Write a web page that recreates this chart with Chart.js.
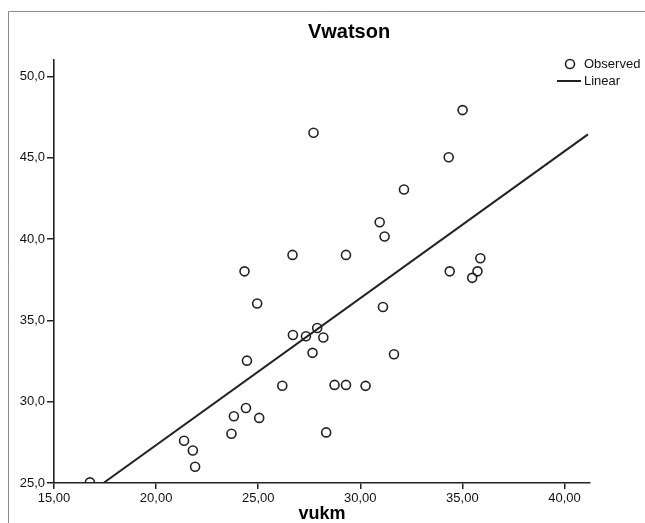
<!DOCTYPE html>
<html>
<head>
<meta charset="utf-8">
<script src="https://cdn.jsdelivr.net/npm/chart.js@4.4.1/dist/chart.umd.min.js"></script>
<style>
  html, body { margin: 0; padding: 0; background: #fff; }
  #wrap { position: relative; width: 645px; height: 523px; }
</style>
</head>
<body>
<div id="wrap"><canvas id="chart" width="645" height="523"></canvas></div>
<script>
var vukm = [16.76, 21.37, 21.80, 21.91, 23.69, 23.81, 24.33, 24.40, 24.45, 24.95,
            25.05, 26.18, 26.68, 26.70, 27.34, 27.71, 27.66, 27.89, 28.19, 28.33,
            28.74, 29.30, 29.30, 30.26, 30.95, 31.11, 31.19, 31.65, 32.14, 34.33,
            34.38, 35.01, 35.48, 35.74, 35.88];
var vwatson = [25.04, 27.60, 27.00, 26.00, 28.03, 29.10, 38.01, 29.61, 32.52, 36.03,
               29.00, 30.98, 39.02, 34.10, 34.02, 46.53, 33.00, 34.53, 33.94, 28.11,
               31.03, 31.03, 39.02, 30.97, 41.03, 35.82, 40.15, 32.91, 43.04, 45.02,
               38.01, 47.92, 37.61, 38.01, 38.81];

// linear fit line, end points as drawn
var fitX = [17.42, 41.15];
var fitY = [25.0, 46.43];

var xTicks = [15, 20, 25, 30, 35, 40];
var yTicks = [25, 30, 35, 40, 45, 50];

var FONT = "Arial, 'Liberation Sans', sans-serif";
var INK = "#222";

var observed = vukm.map(function (x, i) { return { x: x, y: vwatson[i] }; });
var linear = fitX.map(function (x, i) { return { x: x, y: fitY[i] }; });

var decor = {
    id: "decor",
    beforeDraw: function (chart) {
        var ctx = chart.ctx;
        ctx.save();
        ctx.fillStyle = "#fff";
        ctx.fillRect(0, 0, chart.width, chart.height);
        ctx.strokeStyle = "#8c8c8c";
        ctx.lineWidth = 1;
        ctx.beginPath();
        ctx.moveTo(8.5, chart.height);
        ctx.lineTo(8.5, 11.5);
        ctx.lineTo(chart.width, 11.5);
        ctx.stroke();
        ctx.restore();
    },
    afterDraw: function (chart) {
        var ctx = chart.ctx;
        ctx.save();
        // title
        ctx.fillStyle = "#000";
        ctx.font = "bold 20px " + FONT;
        ctx.textAlign = "center";
        ctx.textBaseline = "middle";
        ctx.fillText("Vwatson", 349, 32);

        // legend
        ctx.font = "13px " + FONT;
        ctx.textAlign = "left";
        ctx.fillStyle = "#111";
        ctx.strokeStyle = INK;
        ctx.lineWidth = 1.6;
        ctx.beginPath();
        ctx.arc(570, 64, 4.5, 0, Math.PI * 2);
        ctx.stroke();
        ctx.fillText("Observed", 584, 64);
        ctx.lineWidth = 2;
        ctx.beginPath();
        ctx.moveTo(557, 81);
        ctx.lineTo(581, 81);
        ctx.stroke();
        ctx.fillText("Linear", 584, 81);
        ctx.restore();
    }
};

var ctx = document.getElementById("chart").getContext("2d");

new Chart(ctx, {
    type: "scatter",
    data: {
        datasets: [
            {
                label: "Observed",
                data: observed,
                pointStyle: "circle",
                pointRadius: 4.5,
                pointHoverRadius: 4.5,
                borderWidth: 1.6,
                borderColor: INK,
                backgroundColor: "rgba(0,0,0,0)",
                clip: 0
            },
            {
                label: "Linear",
                type: "line",
                data: linear,
                showLine: true,
                borderColor: INK,
                borderWidth: 2,
                pointRadius: 0,
                fill: false
            }
        ]
    },
    options: {
        responsive: false,
        animation: false,
        devicePixelRatio: 1,
        layout: { padding: { top: 60, right: 55, bottom: 0, left: 0 } },
        plugins: {
            legend: { display: false },
            title: { display: false },
            tooltip: { enabled: false }
        },
        scales: {
            x: {
                type: "linear",
                min: 15,
                max: 41.25,
                afterBuildTicks: function (s) {
                    s.ticks = xTicks.map(function (v) { return { value: v }; });
                },
                afterFit: function (s) { s.height = 40; },
                grid: { drawOnChartArea: false, drawTicks: true, tickLength: 6, color: INK, lineWidth: 1.5 },
                border: { display: true, color: INK, width: 1.6 },
                ticks: {
                    autoSkip: false,
                    maxRotation: 0,
                    padding: 2,
                    color: "#111",
                    font: { family: FONT, size: 13 },
                    callback: function (v) { return v.toFixed(2).replace(".", ","); }
                },
                title: {
                    display: true,
                    text: "vukm",
                    color: "#000",
                    padding: { top: 0, bottom: -2 },
                    font: { family: FONT, size: 18, weight: "bold" }
                }
            },
            y: {
                type: "linear",
                min: 25,
                max: 51,
                afterBuildTicks: function (s) {
                    s.ticks = yTicks.map(function (v) { return { value: v }; });
                },
                afterFit: function (s) { s.width = 54; },
                grid: { drawOnChartArea: false, drawTicks: true, tickLength: 7, color: INK, lineWidth: 1.5 },
                border: { display: true, color: INK, width: 1.6 },
                ticks: {
                    autoSkip: false,
                    padding: 2,
                    color: "#111",
                    font: { family: FONT, size: 13 },
                    callback: function (v) { return v.toFixed(1).replace(".", ","); }
                }
            }
        }
    },
    plugins: [decor]
});
</script>
</body>
</html>
